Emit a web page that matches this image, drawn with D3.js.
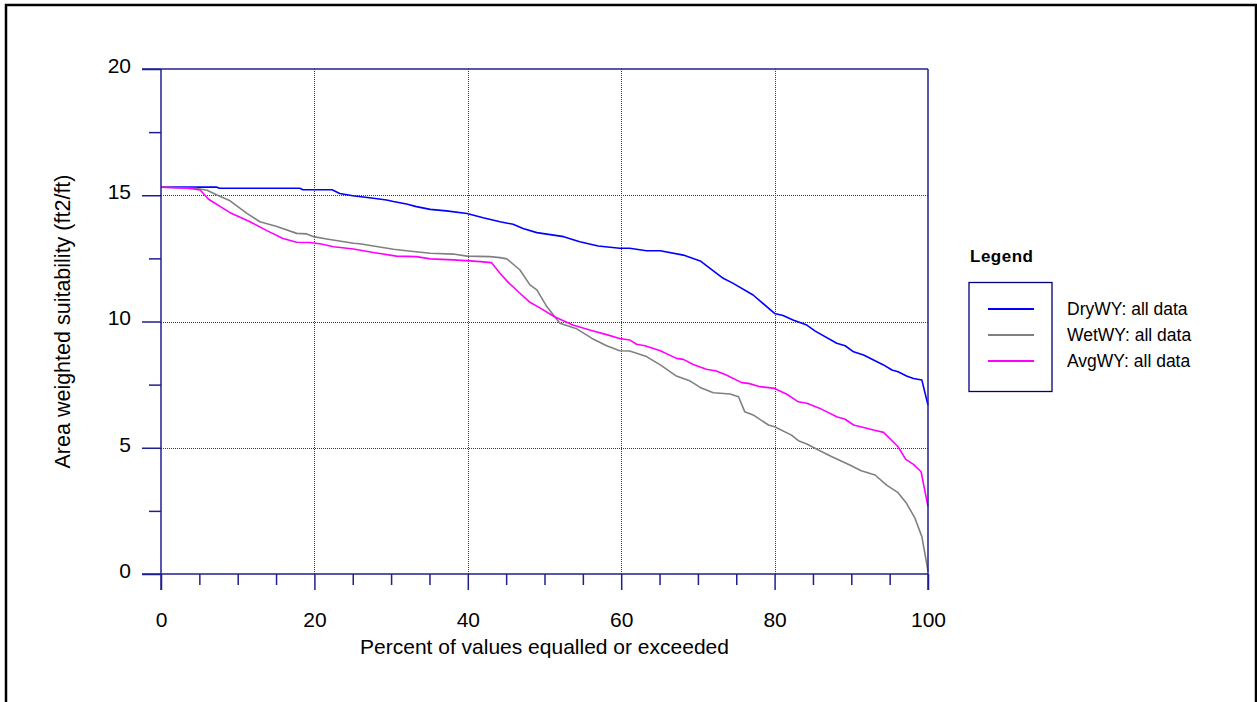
<!DOCTYPE html>
<html>
<head>
<meta charset="utf-8">
<script src="https://cdn.jsdelivr.net/npm/d3@7"></script>
<style>
  html, body { margin: 0; padding: 0; background: #fff; }
  svg { display: block; font-family: "Liberation Sans", Arial, sans-serif; }
</style>
</head>
<body>
<svg id="chart" width="1257" height="702"></svg>
<script>
// ---- data ----
const seriesNames = ["DryWY: all data", "WetWY: all data", "AvgWY: all data"];
const seriesColors = ["#0000ff", "#808080", "#ff00ff"];

const dryX = [0, 7.3, 7.6, 18.1, 18.5, 22.3, 23.3, 25, 27.7, 29.4, 30.3, 32, 33.3, 35.1, 37.2, 39.9, 42, 44.2, 45.9, 47.2, 49.0, 52.5, 54.6, 57.0, 59.8, 61.1, 63.3, 65.1, 68.1, 70.3, 73.3, 74.6, 77.2, 80.0, 81.1, 82.4, 84.2, 85.3, 88.1, 89.2, 90.3, 91.6, 94.2, 95.3, 96.1, 97.2, 98.1, 99.2, 100];
const dryY = [15.32, 15.32, 15.28, 15.28, 15.22, 15.22, 15.07, 14.98, 14.88, 14.81, 14.75, 14.65, 14.55, 14.44, 14.38, 14.28, 14.11, 13.95, 13.85, 13.68, 13.52, 13.36, 13.16, 12.99, 12.90, 12.90, 12.80, 12.80, 12.63, 12.40, 11.71, 11.51, 11.05, 10.32, 10.24, 10.06, 9.86, 9.62, 9.14, 9.04, 8.80, 8.67, 8.28, 8.08, 8.01, 7.84, 7.74, 7.68, 6.69];

const wetX = [0, 4.5, 6.0, 7.3, 9.0, 11.2, 12.9, 15.1, 17.7, 19.0, 19.9, 21.6, 25.1, 25.9, 30.3, 32.0, 35.1, 38.1, 39.9, 42.9, 44.2, 45.1, 46.8, 48.1, 49.0, 50.3, 52.0, 54.2, 56.2, 58.1, 59.8, 61.1, 63.3, 65.1, 67.2, 69.0, 70.3, 72.0, 74.2, 75.3, 76.1, 77.2, 79.2, 80.0, 82.2, 83.1, 84.2, 85.9, 87.4, 89.8, 91.3, 93.1, 94.6, 96.1, 97.2, 98.3, 99.2, 99.9, 100];
const wetY = [15.32, 15.28, 15.2, 15.01, 14.78, 14.28, 13.95, 13.76, 13.49, 13.47, 13.36, 13.27, 13.10, 13.08, 12.86, 12.80, 12.70, 12.67, 12.59, 12.57, 12.53, 12.48, 12.04, 11.45, 11.25, 10.59, 9.93, 9.71, 9.33, 9.04, 8.84, 8.83, 8.61, 8.28, 7.84, 7.64, 7.39, 7.18, 7.13, 7.02, 6.43, 6.30, 5.90, 5.83, 5.50, 5.28, 5.15, 4.88, 4.65, 4.32, 4.09, 3.92, 3.52, 3.22, 2.80, 2.21, 1.48, 0.29, 0.1];

const avgX = [0, 3.5, 5.1, 6.2, 9.0, 10.3, 11.6, 13.8, 15.9, 17.7, 19.4, 20.9, 22.5, 25.1, 27.7, 30.7, 33.3, 35.1, 38.1, 40.3, 41.6, 43.1, 44.2, 45.3, 46.8, 48.1, 49.4, 51.3, 53.7, 55.9, 58.1, 59.8, 61.1, 62.0, 63.1, 65.1, 67.2, 68.1, 69.4, 71.1, 72.4, 73.7, 75.7, 76.6, 78.1, 80.0, 81.6, 83.1, 84.2, 86.1, 88.1, 89.2, 90.3, 91.6, 92.9, 94.2, 96.1, 97.1, 98.1, 99.1, 100];
const avgY = [15.32, 15.28, 15.21, 14.84, 14.31, 14.13, 13.95, 13.60, 13.29, 13.14, 13.13, 13.07, 12.96, 12.87, 12.73, 12.59, 12.57, 12.48, 12.44, 12.40, 12.37, 12.33, 11.91, 11.54, 11.12, 10.76, 10.54, 10.19, 9.86, 9.66, 9.48, 9.33, 9.27, 9.10, 9.04, 8.84, 8.54, 8.50, 8.30, 8.11, 8.04, 7.88, 7.58, 7.55, 7.42, 7.35, 7.12, 6.82, 6.76, 6.53, 6.23, 6.13, 5.90, 5.80, 5.70, 5.61, 5.04, 4.54, 4.34, 4.05, 2.67];

const xTicks = [0, 5, 10, 15, 20, 25, 30, 35, 40, 45, 50, 55, 60, 65, 70, 75, 80, 85, 90, 95, 100];
const xLabels = [0, 20, 40, 60, 80, 100];
const yTicks = [0, 2.5, 5, 7.5, 10, 12.5, 15, 17.5, 20];
const yLabels = [0, 5, 10, 15, 20];
const xTitle = "Percent of values equalled or exceeded";
const yTitle = "Area weighted suitability (ft2/ft)";
const legendTitle = "Legend";

// ---- layout ----
const svg = d3.select("#chart");
const L = 161, R = 928, T = 69, B = 574;
const x = d3.scaleLinear().domain([0, 100]).range([L, R]);
const y = d3.scaleLinear().domain([0, 20]).range([B, T]);
const axisColor = "#1f1f8f";
const gridColor = "#2a2ac0";
const font = "21px";

// outer border
svg.append("rect").attr("x", 6).attr("y", 5).attr("width", 1250).attr("height", 740)
  .attr("fill", "none").attr("stroke", "#000").attr("stroke-width", 2.5);

// grid
const grid = svg.append("g").attr("shape-rendering", "crispEdges");
grid.selectAll("line.v").data(xLabels.filter(d => d > 0 && d < 100)).join("line")
  .attr("x1", d => Math.round(x(d)) + 0.5).attr("x2", d => Math.round(x(d)) + 0.5).attr("y1", T).attr("y2", B)
  .attr("stroke", gridColor).attr("stroke-width", 1).attr("stroke-dasharray", "1,1");
grid.selectAll("line.h").data(yLabels.filter(d => d > 0 && d < 20)).join("line")
  .attr("x1", L).attr("x2", R).attr("y1", d => Math.round(y(d)) + 0.5).attr("y2", d => Math.round(y(d)) + 0.5)
  .attr("stroke", gridColor).attr("stroke-width", 1).attr("stroke-dasharray", "1,1");

// lines
const seriesData = [
  d3.zip(dryX, dryY),
  d3.zip(wetX, wetY),
  d3.zip(avgX, avgY)
];
const lineGen = d3.line().x(d => x(d[0])).y(d => y(d[1]));
svg.append("g").selectAll("path").data(seriesData).join("path")
  .attr("d", lineGen).attr("fill", "none")
  .attr("stroke", (d, i) => seriesColors[i]).attr("stroke-width", 1.6)
  .attr("stroke-linejoin", "round");

// x axis (bottom)
const xAxis = d3.axisBottom(x).tickValues(xTicks)
  .tickSize(0).tickFormat(d => xLabels.includes(d) ? d : "");
const gx = svg.append("g").attr("transform", `translate(0,${B})`).call(xAxis);
gx.select(".domain").remove();
gx.selectAll(".tick line").attr("y2", d => xLabels.includes(d) ? 16 : 11)
  .attr("stroke", axisColor).attr("stroke-width", 1.5);
gx.selectAll(".tick text")
  .attr("font-size", font).attr("fill", "#000")
  .attr("font-family", "Liberation Sans, Arial, sans-serif")
  .attr("dy", null).attr("y", 0).attr("transform", "translate(0,52.7)");

// y axis (left)
const yAxis = d3.axisLeft(y).tickValues(yTicks)
  .tickSize(0).tickFormat(d => yLabels.includes(d) ? d : "");
const gy = svg.append("g").attr("transform", `translate(${L},0)`).call(yAxis);
gy.select(".domain").remove();
gy.selectAll(".tick line").attr("x2", d => yLabels.includes(d) ? -19 : -12)
  .attr("stroke", axisColor).attr("stroke-width", 1.5);
gy.selectAll(".tick text").attr("x", -30).attr("dy", "0.16em")
  .attr("font-size", font).attr("fill", "#000")
  .attr("font-family", "Liberation Sans, Arial, sans-serif");

// frame lines
const frame = svg.append("g").attr("stroke", axisColor).attr("stroke-width", 1.5).attr("fill", "none");
frame.append("line").attr("x1", L).attr("x2", L).attr("y1", T).attr("y2", B + 16);
frame.append("line").attr("x1", L - 19).attr("x2", R).attr("y1", B).attr("y2", B);
frame.append("line").attr("x1", L - 19).attr("x2", R).attr("y1", T).attr("y2", T);
frame.append("line").attr("x1", R).attr("x2", R).attr("y1", T).attr("y2", B + 16);

// titles
svg.append("text").attr("x", (L + R) / 2).attr("y", 654).attr("text-anchor", "middle")
  .attr("font-size", font).attr("fill", "#000").text(xTitle);
svg.append("text").attr("transform", `translate(70,${(T + B) / 2}) rotate(-90)`)
  .attr("text-anchor", "middle").attr("font-size", "21.5px").attr("fill", "#000").text(yTitle);

// legend
svg.append("text").attr("x", 970).attr("y", 262).attr("font-size", "17px")
  .attr("font-weight", "bold").attr("letter-spacing", "0.5px").attr("fill", "#000").text(legendTitle);
svg.append("rect").attr("x", 969).attr("y", 282.5).attr("width", 83).attr("height", 109)
  .attr("fill", "none").attr("stroke", "#000080").attr("stroke-width", 1.3);
const legY = d3.scalePoint().domain(seriesNames).range([309, 361]);
const lg = svg.append("g").selectAll("g").data(seriesNames).join("g")
  .attr("transform", d => `translate(0,${legY(d)})`);
lg.append("line").attr("x1", 988).attr("x2", 1034).attr("y1", 0).attr("y2", 0)
  .attr("stroke", (d, i) => seriesColors[i]).attr("stroke-width", 2.2);
lg.append("text").attr("x", 1067).attr("y", 5.5).attr("font-size", "17.5px")
  .attr("fill", "#000").text(d => d);
</script>
</body>
</html>
